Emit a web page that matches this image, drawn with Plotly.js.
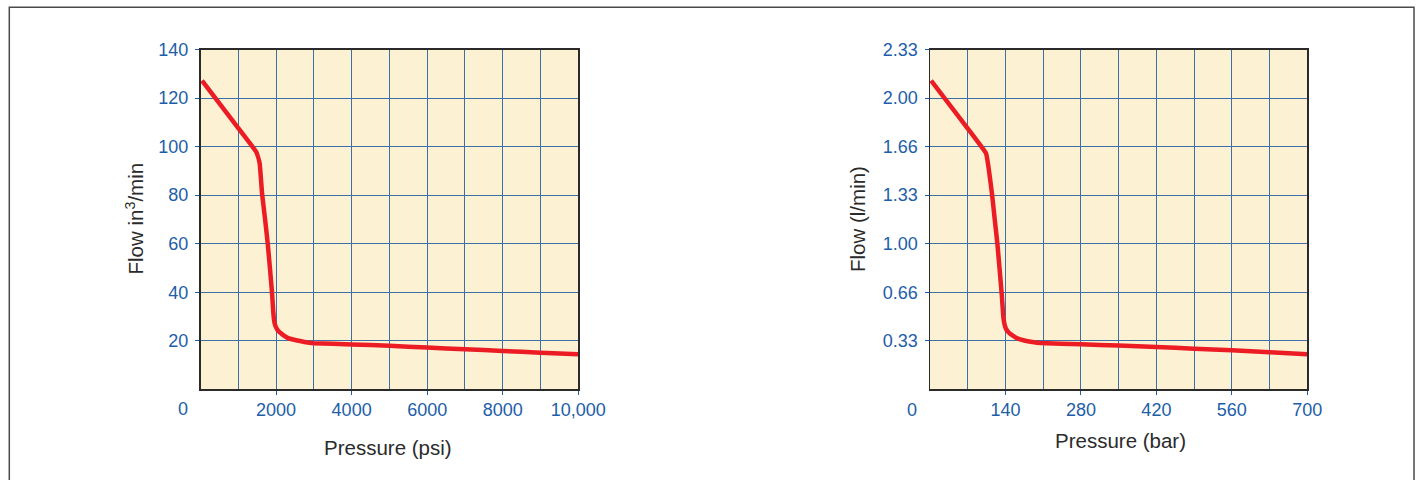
<!DOCTYPE html>
<html>
<head>
<meta charset="utf-8">
<script src="https://cdn.plot.ly/plotly-3.0.1.min.js"></script>
<style>
html,body{margin:0;padding:0;background:#fff;}
#chart{width:1425px;height:480px;}
</style>
</head>
<body>
<div id="chart"></div>
<script>
// Left chart: Pressure (psi) vs Flow (in^3/min)
var psi = [40, 1000, 1480, 1565, 1630, 1710, 1780, 1840, 1895, 1930, 1960, 2000, 2060, 2120, 2200, 2320, 2450, 2560, 2750, 3000, 4000, 5000, 6000, 7000, 8000, 9000, 10000];
var flowIn3 = [127.2, 107.6, 97.7, 93.2, 80.6, 70.0, 60.0, 49.5, 39.4, 31.0, 27.3, 25.5, 24.0, 23.2, 22.2, 21.1, 20.5, 20.1, 19.5, 19.0, 18.5, 17.9, 17.2, 16.5, 15.8, 15.1, 14.4];

// Right chart: Pressure (bar) vs Flow (l/min)
var bar = [2, 68, 104, 108, 115, 120, 125, 129, 133, 136, 138, 141, 146, 153, 162, 175, 190, 205, 280, 350, 420, 490, 560, 630, 700];
var flowLpm = [2.12, 1.80, 1.62, 1.54, 1.343, 1.17, 1.0, 0.83, 0.657, 0.50, 0.45, 0.415, 0.39, 0.37, 0.35, 0.335, 0.325, 0.318, 0.309, 0.300, 0.290, 0.279, 0.268, 0.255, 0.240];

// Tick labels
var psiTickVals = [2000, 4000, 6000, 8000, 10000];
var psiTickText = ["2000", "4000", "6000", "8000", "10,000"];
var in3TickVals = [20, 40, 60, 80, 100, 120, 140];
var in3TickText = ["20", "40", "60", "80", "100", "120", "140"];
var barTickVals = [140, 280, 420, 560, 700];
var barTickText = ["140", "280", "420", "560", "700"];
var lpmTickVals = [1/3, 2/3, 1, 4/3, 5/3, 2, 7/3];
var lpmTickText = ["0.33", "0.66", "1.00", "1.33", "1.66", "2.00", "2.33"];

var W = 1425, H = 480;
function px(x){ return x / W; }
function py(y){ return 1 - y / H; }

var tickColor = '#1d5ea8';
var gridColor = '#3c6fa6';
var fontFam = '"Liberation Sans", Arial, Helvetica, sans-serif';
var lineColor = '#ec1c24';

function xAxis(dom, range, tv, tt, minorDtick){
  return {
    domain: dom, range: range, tickmode: 'array', tickvals: tv, ticktext: tt,
    showgrid: true, gridcolor: gridColor, gridwidth: 1,
    minor: {dtick: minorDtick, tick0: 0, showgrid: true, gridcolor: gridColor, gridwidth: 1, ticks: ''},
    ticks: 'outside', ticklen: 4, tickcolor: tickColor, tickwidth: 1,
    showline: true, linecolor: '#2a2a2a', linewidth: 1.5, mirror: true,
    zeroline: false, automargin: false, fixedrange: true,
    tickfont: {family: fontFam, size: 18, color: tickColor},
    ticklabelstandoff: 0
  };
}
function yAxis(dom, range, tv, tt, anchor){
  return {
    domain: dom, range: range, tickmode: 'array', tickvals: tv, ticktext: tt, anchor: anchor,
    showgrid: true, gridcolor: gridColor, gridwidth: 1,
    ticks: 'outside', ticklen: 4, tickcolor: tickColor, tickwidth: 1,
    showline: true, linecolor: '#2a2a2a', linewidth: 1.5, mirror: true,
    zeroline: false, automargin: false, fixedrange: true,
    tickfont: {family: fontFam, size: 18, color: tickColor},
    ticklabelstandoff: 3
  };
}

var yDom = [py(389.3), py(49.5)];

var traces = [
  {x: psi, y: flowIn3, xaxis: 'x', yaxis: 'y', mode: 'lines', line: {color: lineColor, width: 4.5, shape: 'spline', smoothing: 0.3}, hoverinfo: 'x+y'},
  {x: bar, y: flowLpm, xaxis: 'x2', yaxis: 'y2', mode: 'lines', line: {color: lineColor, width: 4.5, shape: 'spline', smoothing: 0.3}, hoverinfo: 'x+y'}
];

var titleFont = {family: fontFam, size: 20.5, color: '#2b2b2b'};
var zeroFont = {family: fontFam, size: 18, color: tickColor};

var layout = {
  width: W, height: H,
  margin: {l: 0, r: 0, t: 0, b: 0},
  paper_bgcolor: '#ffffff',
  plot_bgcolor: '#fdf1d3',
  showlegend: false,
  xaxis: xAxis([px(200.5), px(578.3)], [0, 10000], psiTickVals, psiTickText, 1000),
  yaxis: yAxis(yDom, [0, 140], in3TickVals, in3TickText, 'x'),
  xaxis2: Object.assign(xAxis([px(930), px(1307.3)], [0, 700], barTickVals, barTickText, 70), {anchor: 'y2'}),
  yaxis2: yAxis(yDom, [0, 7/3], lpmTickVals, lpmTickText, 'x2'),
  shapes: [
    {type: 'rect', xref: 'paper', yref: 'paper', x0: px(9.3), x1: px(1414), y0: -0.1, y1: py(7.3),
     line: {color: '#4a4a4a', width: 1.5}, fillcolor: 'rgba(0,0,0,0)', layer: 'below'}
  ],
  annotations: [
    {xref: 'paper', yref: 'paper', x: px(134), y: py(218.5), text: 'Flow in<sup>3</sup>/min', textangle: -90,
     showarrow: false, xanchor: 'center', yanchor: 'middle', font: titleFont},
    {xref: 'paper', yref: 'paper', x: px(388), y: py(447), text: 'Pressure (psi)',
     showarrow: false, xanchor: 'center', yanchor: 'middle', font: titleFont},
    {xref: 'paper', yref: 'paper', x: px(857), y: py(219), text: 'Flow (l/min)', textangle: -90,
     showarrow: false, xanchor: 'center', yanchor: 'middle', font: titleFont},
    {xref: 'paper', yref: 'paper', x: px(1120), y: py(440), text: 'Pressure (bar)',
     showarrow: false, xanchor: 'center', yanchor: 'middle', font: titleFont},
    {xref: 'paper', yref: 'paper', x: px(183), y: py(409), text: '0',
     showarrow: false, xanchor: 'center', yanchor: 'middle', font: zeroFont},
    {xref: 'paper', yref: 'paper', x: px(912), y: py(409.5), text: '0',
     showarrow: false, xanchor: 'center', yanchor: 'middle', font: zeroFont}
  ]
};

Plotly.newPlot('chart', traces, layout, {displayModeBar: false, staticPlot: true});
</script>
</body>
</html>
